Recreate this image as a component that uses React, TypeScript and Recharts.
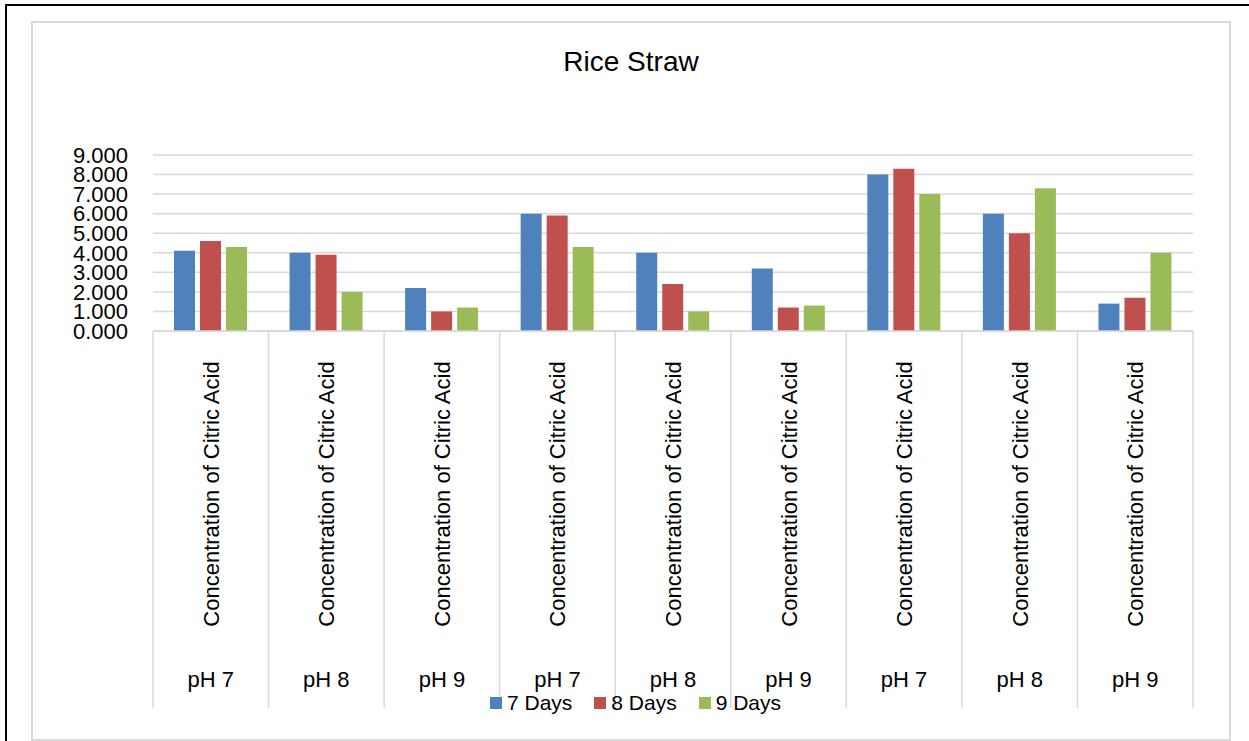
import React from "react";
import { BarChart, Bar, XAxis, YAxis, CartesianGrid, Legend } from "recharts";

// categories (two-level axis: measure on top, pH below)
const phLevels = ["pH 7", "pH 8", "pH 9", "pH 7", "pH 8", "pH 9", "pH 7", "pH 8", "pH 9"];
const measureLabel = "Concentration of Citric Acid";

// series values
const days7 = [4.1, 4.0, 2.2, 6.0, 4.0, 3.2, 8.0, 6.0, 1.4];
const days8 = [4.6, 3.9, 1.0, 5.9, 2.4, 1.2, 8.3, 5.0, 1.7];
const days9 = [4.3, 2.0, 1.2, 4.3, 1.0, 1.3, 7.0, 7.3, 4.0];

const yTicks = [0, 1, 2, 3, 4, 5, 6, 7, 8, 9];

const series = [
  { key: "d7", name: "7 Days", color: "#4F81BD" },
  { key: "d8", name: "8 Days", color: "#C0504D" },
  { key: "d9", name: "9 Days", color: "#9BBB59" },
];

const FONT = "'Liberation Sans', Arial, sans-serif";
const W = 1249;
const H = 741;
const PLOT_LEFT = 153;
const PLOT_RIGHT = 1193;
const PLOT_BOTTOM = 331;
const SEP_BOTTOM = 708;
const BAND = (PLOT_RIGHT - PLOT_LEFT) / phLevels.length;

const rows = phLevels.map((ph, i) => ({
  ph,
  d7: days7[i],
  d8: days8[i],
  d9: days9[i],
}));

function CategoryTick(props: any) {
  const { x, payload } = props;
  const i = payload.index;
  const cy = 494;
  const left = x - BAND / 2;
  const right = x + BAND / 2;
  return (
    <g>
      <line x1={left} y1={PLOT_BOTTOM} x2={left} y2={SEP_BOTTOM} stroke="#d9d9d9" strokeWidth={1.5} />
      {i === phLevels.length - 1 && (
        <line x1={right} y1={PLOT_BOTTOM} x2={right} y2={SEP_BOTTOM} stroke="#d9d9d9" strokeWidth={1.5} />
      )}
      <text
        x={x}
        y={cy + 8}
        transform={`rotate(-90, ${x}, ${cy})`}
        textAnchor="middle"
        fontSize={22}
        fontFamily={FONT}
        fill="#000"
      >
        {measureLabel}
      </text>
      <text x={x} y={687} textAnchor="middle" fontSize={22} fontFamily={FONT} fill="#000">
        {phLevels[i]}
      </text>
    </g>
  );
}

function LegendBox() {
  return (
    <div style={{ display: "flex", justifyContent: "center", alignItems: "center", gap: 22, fontFamily: FONT, fontSize: 21, lineHeight: "26px", color: "#000" }}>
      {series.map((s) => (
        <div key={s.key} style={{ display: "flex", alignItems: "center" }}>
          <span style={{ display: "inline-block", width: 12, height: 12, background: s.color, marginRight: 5 }} />
          <span>{s.name}</span>
        </div>
      ))}
    </div>
  );
}

export default function App() {
  return (
    <div style={{ position: "absolute", left: 0, top: 0, width: W, height: H, overflow: "hidden", background: "#fff" }}>
      <div style={{ position: "absolute", left: 5, top: 4, width: 3000, height: 3000, borderLeft: "2px solid #000", borderTop: "2px solid #000" }} />
      <div style={{ position: "absolute", left: 31, top: 21, width: 1200, height: 720, boxSizing: "border-box", border: "2px solid #d9d9d9" }} />
      <div style={{ position: "absolute", left: 31, top: 48, width: 1200, textAlign: "center", fontFamily: FONT, fontSize: 28, lineHeight: "28px", color: "#000" }}>
        Rice Straw
      </div>
      <div style={{ position: "absolute", left: 0, top: 0 }}>
        <BarChart
          width={W}
          height={H}
          data={rows}
          margin={{ top: 155, right: W - PLOT_RIGHT, bottom: 30, left: 0 }}
          barGap={5}
          barSize={21}
        >
          <CartesianGrid vertical={false} stroke="#d9d9d9" strokeWidth={1.5} />
          <XAxis
            dataKey="ph"
            height={380}
            interval={0}
            tickLine={false}
            axisLine={{ stroke: "#d9d9d9", strokeWidth: 1.5 }}
            tick={<CategoryTick />}
          />
          <YAxis
            width={PLOT_LEFT}
            domain={[0, 9]}
            ticks={yTicks}
            interval={0}
            axisLine={false}
            tickLine={false}
            tickSize={0}
            tickMargin={25}
            tickFormatter={(v) => Number(v).toFixed(3)}
            tick={{ fontSize: 22, fontFamily: FONT, fill: "#000" }}
          />
          <Legend
            layout="horizontal"
            verticalAlign="middle"
            align="center"
            wrapperStyle={{ top: 690, left: 11, width: W }}
            content={() => <LegendBox />}
          />
          {series.map((s) => (
            <Bar key={s.key} dataKey={s.key} name={s.name} fill={s.color} isAnimationActive={false} />
          ))}
        </BarChart>
      </div>
    </div>
  );
}
